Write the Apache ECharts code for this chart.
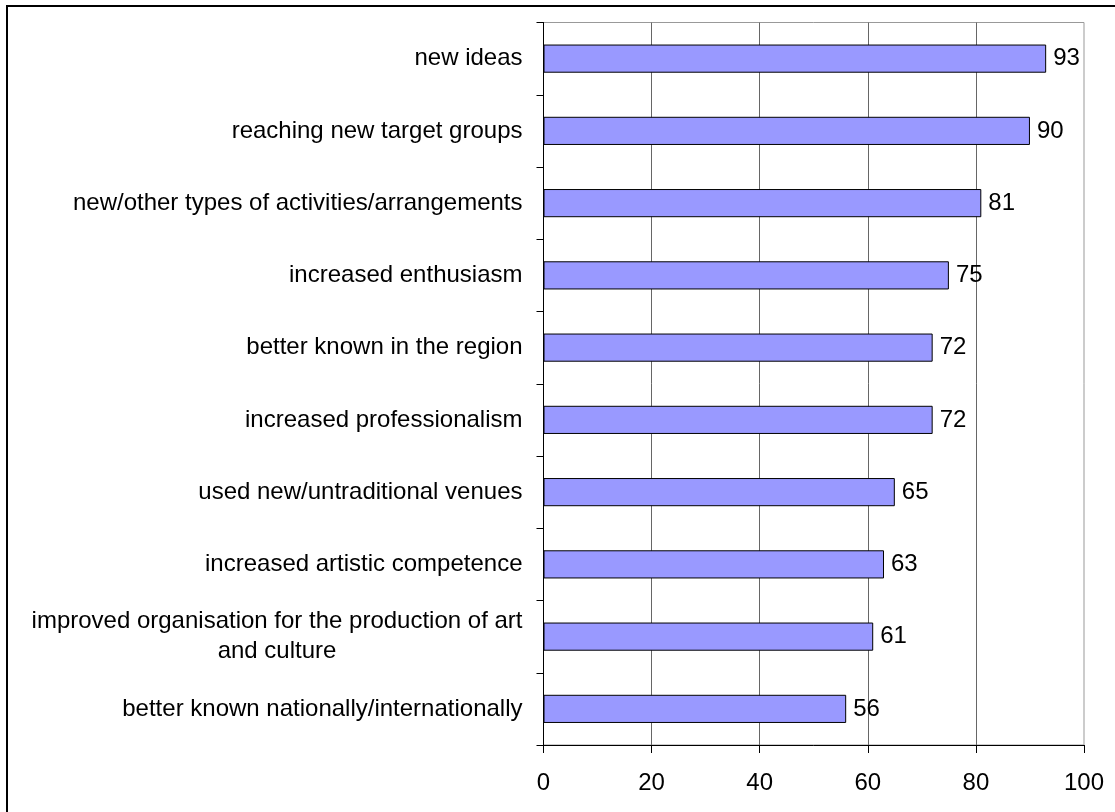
<!DOCTYPE html>
<html>
<head>
<meta charset="utf-8">
<style>
  html, body { margin: 0; padding: 0; background: #fff; }
  #chart { width: 1115px; height: 812px; }
</style>
<script src="https://cdn.jsdelivr.net/npm/echarts@6/dist/echarts.min.js"></script>
</head>
<body>
<div id="chart"></div>
<script>
// Reported effects (percent of respondents), listed top to bottom
const categories = [
  'new ideas',
  'reaching new target groups',
  'new/other types of activities/arrangements',
  'increased enthusiasm',
  'better known in the region',
  'increased professionalism',
  'used new/untraditional venues',
  'increased artistic competence',
  'improved organisation for the production of art\nand culture',
  'better known nationally/internationally'
];
const values = [93, 90, 81, 75, 72, 72, 65, 63, 61, 56];
const xTicks = [0, 20, 40, 60, 80, 100];

const FONT = '"Liberation Sans", Arial, sans-serif';
const FS = 24;
const chart = echarts.init(document.getElementById('chart'), null, { renderer: 'canvas' });

chart.setOption({
  animation: false,
  backgroundColor: '#fff',
  textStyle: { fontFamily: FONT },
  graphic: [{
    type: 'rect',
    shape: { x: 7, y: 6, width: 1200, height: 900 },
    style: { fill: 'none', stroke: '#000', lineWidth: 2 },
    silent: true,
    z: 100
  }],
  grid: {
    left: 543.5, right: 31, top: 22.5, bottom: 67,
    show: true, borderColor: '#999', borderWidth: 1, backgroundColor: 'transparent'
  },
  xAxis: {
    type: 'value',
    min: xTicks[0], max: xTicks[xTicks.length - 1], interval: 20,
    axisLine: { show: true, lineStyle: { color: '#000', width: 1 } },
    axisTick: { show: true, length: 8, lineStyle: { color: '#000' } },
    axisLabel: { margin: 26, fontSize: FS, color: '#000', fontFamily: FONT },
    splitLine: { show: true, showMaxLine: false, lineStyle: { color: '#666', width: 1 } }
  },
  yAxis: {
    type: 'category',
    data: categories,
    inverse: true,
    axisLine: { show: true, lineStyle: { color: '#000', width: 1 } },
    axisTick: { show: true, length: 7, alignWithLabel: false, lineStyle: { color: '#000' } },
    axisLabel: {
      margin: 21, fontSize: FS, color: '#000', fontFamily: FONT, lineHeight: 30,
      formatter: function (v) {
        if (v.indexOf('\n') < 0) return v;
        return v.split('\n').map(function (l) { return '{c|' + l + '}'; }).join('\n');
      },
      rich: { c: { align: 'center', fontSize: FS, fontFamily: FONT, color: '#000', lineHeight: 30 } }
    },
    splitLine: { show: false }
  },
  series: [{
    type: 'bar',
    data: values,
    barCategoryGap: '61%',
    itemStyle: { color: '#9999FF', borderColor: '#000', borderWidth: 1 },
    label: {
      show: true, position: 'right', distance: 7,
      fontSize: FS, color: '#000', fontFamily: FONT
    }
  }]
});
</script>
</body>
</html>
